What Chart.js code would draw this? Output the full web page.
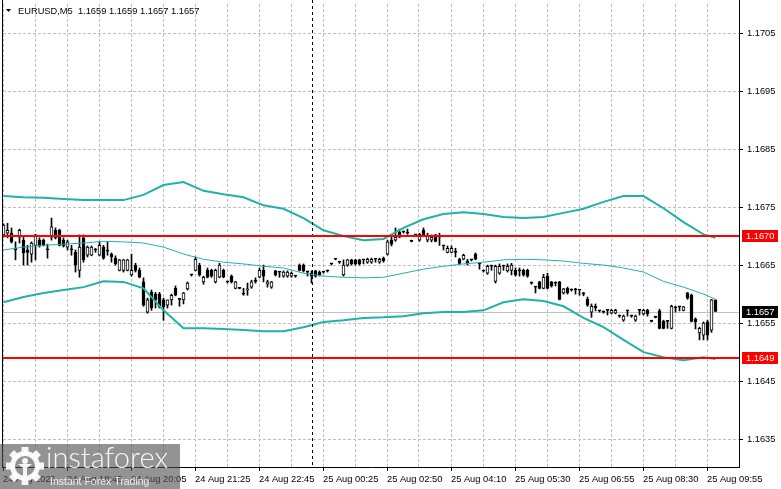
<!DOCTYPE html>
<html>
<head>
<meta charset="utf-8">
<title>EURUSD M5</title>
<script src="https://cdn.jsdelivr.net/npm/chart.js@4.4.1/dist/chart.umd.min.js"></script>
<style>
  html, body { margin: 0; padding: 0; background: #fff; }
  #wrap { width: 781px; height: 489px; position: relative; }
</style>
</head>
<body>
<div id="wrap"><canvas id="chart"></canvas></div>
<script>
// chart data
const symbol = "EURUSD,M5";

const opens = [
  1.16702, 1.16705, 1.16705, 1.16679, 1.16698, 1.16693, 1.16676, 1.16669, 1.16684, 1.16693,
  1.16693, 1.16678, 1.16698, 1.16710, 1.16710, 1.16693, 1.16681, 1.16678, 1.16672, 1.16641,
  1.16697, 1.16667, 1.16667, 1.16676, 1.16667, 1.16681, 1.16676, 1.16669, 1.16662, 1.16641,
  1.16641, 1.16641, 1.16633, 1.16650, 1.16641, 1.16621, 1.16569, 1.16603, 1.16600, 1.16600,
  1.16590, 1.16581, 1.16590, 1.16610, 1.16591, 1.16590, 1.16609, 1.16633, 1.16641, 1.16650,
  1.16621, 1.16641, 1.16641, 1.16621, 1.16629, 1.16641, 1.16621, 1.16631, 1.16610, 1.16610,
  1.16600, 1.16607, 1.16612, 1.16624, 1.16629, 1.16641, 1.16617, 1.16612, 1.16640, 1.16638,
  1.16631, 1.16631, 1.16631, 1.16631, 1.16650, 1.16650, 1.16638, 1.16636, 1.16640, 1.16638,
  1.16638, 1.16640, 1.16652, 1.16660, 1.16655, 1.16633, 1.16650, 1.16659, 1.16659, 1.16659,
  1.16659, 1.16655, 1.16655, 1.16660, 1.16655, 1.16662, 1.16669, 1.16693, 1.16693, 1.16707,
  1.16707, 1.16707, 1.16691, 1.16702, 1.16693, 1.16710, 1.16693, 1.16693, 1.16702, 1.16700,
  1.16684, 1.16672, 1.16672, 1.16672, 1.16660, 1.16660, 1.16657, 1.16659, 1.16669, 1.16652,
  1.16640, 1.16636, 1.16648, 1.16622, 1.16636, 1.16648, 1.16640, 1.16641, 1.16641, 1.16641,
  1.16641, 1.16641, 1.16619, 1.16612, 1.16621, 1.16610, 1.16631, 1.16621, 1.16619, 1.16621,
  1.16602, 1.16610, 1.16607, 1.16609, 1.16607, 1.16602, 1.16591, 1.16569, 1.16579, 1.16571,
  1.16569, 1.16572, 1.16567, 1.16567, 1.16562, 1.16555, 1.16571, 1.16562, 1.16555, 1.16572,
  1.16566, 1.16572, 1.16553, 1.16560, 1.16571, 1.16553, 1.16553, 1.16541, 1.16578, 1.16578,
  1.16572, 1.16602, 1.16598, 1.16557, 1.16533, 1.16529, 1.16552, 1.16538, 1.16590
];
const highs = [
  1.16721, 1.16722, 1.16714, 1.16690, 1.16712, 1.16698, 1.16684, 1.16690, 1.16703, 1.16697,
  1.16695, 1.16686, 1.16731, 1.16714, 1.16712, 1.16697, 1.16693, 1.16684, 1.16676, 1.16702,
  1.16702, 1.16683, 1.16683, 1.16679, 1.16691, 1.16684, 1.16690, 1.16671, 1.16666, 1.16660,
  1.16660, 1.16660, 1.16669, 1.16653, 1.16645, 1.16628, 1.16593, 1.16607, 1.16603, 1.16603,
  1.16593, 1.16590, 1.16600, 1.16614, 1.16591, 1.16603, 1.16621, 1.16633, 1.16664, 1.16653,
  1.16631, 1.16645, 1.16643, 1.16643, 1.16653, 1.16643, 1.16621, 1.16633, 1.16622, 1.16610,
  1.16610, 1.16619, 1.16624, 1.16628, 1.16645, 1.16650, 1.16624, 1.16622, 1.16641, 1.16638,
  1.16640, 1.16640, 1.16638, 1.16631, 1.16652, 1.16652, 1.16640, 1.16640, 1.16641, 1.16640,
  1.16638, 1.16640, 1.16652, 1.16660, 1.16655, 1.16659, 1.16660, 1.16660, 1.16660, 1.16660,
  1.16659, 1.16662, 1.16662, 1.16660, 1.16662, 1.16664, 1.16693, 1.16700, 1.16714, 1.16712,
  1.16709, 1.16712, 1.16693, 1.16703, 1.16705, 1.16714, 1.16705, 1.16702, 1.16703, 1.16705,
  1.16684, 1.16683, 1.16683, 1.16679, 1.16662, 1.16669, 1.16660, 1.16660, 1.16671, 1.16652,
  1.16641, 1.16650, 1.16650, 1.16650, 1.16652, 1.16650, 1.16652, 1.16653, 1.16645, 1.16645,
  1.16643, 1.16643, 1.16621, 1.16612, 1.16622, 1.16634, 1.16636, 1.16622, 1.16621, 1.16622,
  1.16610, 1.16612, 1.16609, 1.16610, 1.16607, 1.16603, 1.16595, 1.16583, 1.16583, 1.16572,
  1.16571, 1.16572, 1.16574, 1.16574, 1.16564, 1.16564, 1.16571, 1.16564, 1.16564, 1.16572,
  1.16574, 1.16574, 1.16555, 1.16562, 1.16574, 1.16555, 1.16553, 1.16581, 1.16579, 1.16578,
  1.16579, 1.16603, 1.16600, 1.16559, 1.16543, 1.16552, 1.16555, 1.16591, 1.16590
];
const lows = [
  1.16698, 1.16697, 1.16688, 1.16659, 1.16688, 1.16650, 1.16650, 1.16655, 1.16659, 1.16681,
  1.16683, 1.16662, 1.16693, 1.16695, 1.16683, 1.16681, 1.16676, 1.16667, 1.16638, 1.16629,
  1.16655, 1.16664, 1.16666, 1.16672, 1.16666, 1.16660, 1.16667, 1.16655, 1.16650, 1.16640,
  1.16638, 1.16640, 1.16631, 1.16638, 1.16628, 1.16579, 1.16567, 1.16572, 1.16576, 1.16576,
  1.16555, 1.16576, 1.16581, 1.16597, 1.16579, 1.16583, 1.16607, 1.16631, 1.16640, 1.16631,
  1.16617, 1.16628, 1.16629, 1.16619, 1.16628, 1.16628, 1.16619, 1.16619, 1.16609, 1.16609,
  1.16598, 1.16598, 1.16610, 1.16619, 1.16628, 1.16621, 1.16612, 1.16610, 1.16631, 1.16629,
  1.16629, 1.16629, 1.16629, 1.16629, 1.16640, 1.16638, 1.16631, 1.16619, 1.16629, 1.16631,
  1.16636, 1.16638, 1.16650, 1.16659, 1.16653, 1.16631, 1.16648, 1.16650, 1.16650, 1.16650,
  1.16652, 1.16653, 1.16653, 1.16655, 1.16653, 1.16655, 1.16667, 1.16683, 1.16691, 1.16697,
  1.16705, 1.16703, 1.16690, 1.16700, 1.16691, 1.16700, 1.16690, 1.16690, 1.16690, 1.16684,
  1.16676, 1.16671, 1.16671, 1.16664, 1.16652, 1.16659, 1.16650, 1.16657, 1.16659, 1.16643,
  1.16638, 1.16634, 1.16641, 1.16619, 1.16634, 1.16641, 1.16638, 1.16633, 1.16631, 1.16631,
  1.16631, 1.16629, 1.16617, 1.16602, 1.16609, 1.16609, 1.16609, 1.16612, 1.16614, 1.16590,
  1.16600, 1.16600, 1.16605, 1.16600, 1.16598, 1.16597, 1.16579, 1.16560, 1.16571, 1.16569,
  1.16567, 1.16564, 1.16566, 1.16566, 1.16560, 1.16553, 1.16562, 1.16560, 1.16553, 1.16564,
  1.16564, 1.16562, 1.16552, 1.16559, 1.16540, 1.16540, 1.16541, 1.16540, 1.16569, 1.16571,
  1.16571, 1.16591, 1.16552, 1.16540, 1.16521, 1.16521, 1.16521, 1.16534, 1.16570
];
const closes = [
  1.16719, 1.16710, 1.16690, 1.16676, 1.16710, 1.16671, 1.16672, 1.16688, 1.16702, 1.16683,
  1.16684, 1.16676, 1.16716, 1.16697, 1.16684, 1.16683, 1.16690, 1.16676, 1.16650, 1.16681,
  1.16659, 1.16681, 1.16681, 1.16676, 1.16684, 1.16662, 1.16674, 1.16664, 1.16652, 1.16659,
  1.16659, 1.16659, 1.16641, 1.16641, 1.16629, 1.16581, 1.16590, 1.16576, 1.16590, 1.16578,
  1.16578, 1.16590, 1.16598, 1.16598, 1.16591, 1.16602, 1.16619, 1.16633, 1.16660, 1.16633,
  1.16629, 1.16629, 1.16631, 1.16641, 1.16650, 1.16629, 1.16621, 1.16621, 1.16621, 1.16610,
  1.16600, 1.16609, 1.16621, 1.16622, 1.16641, 1.16631, 1.16621, 1.16621, 1.16633, 1.16638,
  1.16638, 1.16638, 1.16636, 1.16631, 1.16641, 1.16640, 1.16638, 1.16631, 1.16631, 1.16633,
  1.16638, 1.16640, 1.16652, 1.16660, 1.16655, 1.16650, 1.16659, 1.16652, 1.16652, 1.16652,
  1.16659, 1.16660, 1.16660, 1.16660, 1.16660, 1.16657, 1.16690, 1.16686, 1.16698, 1.16698,
  1.16707, 1.16705, 1.16691, 1.16702, 1.16703, 1.16702, 1.16700, 1.16698, 1.16691, 1.16698,
  1.16683, 1.16679, 1.16679, 1.16672, 1.16653, 1.16667, 1.16652, 1.16659, 1.16660, 1.16652,
  1.16640, 1.16648, 1.16648, 1.16648, 1.16648, 1.16648, 1.16648, 1.16650, 1.16633, 1.16640,
  1.16633, 1.16631, 1.16619, 1.16612, 1.16610, 1.16629, 1.16610, 1.16614, 1.16619, 1.16591,
  1.16609, 1.16602, 1.16607, 1.16607, 1.16607, 1.16600, 1.16581, 1.16579, 1.16576, 1.16571,
  1.16569, 1.16572, 1.16572, 1.16572, 1.16562, 1.16562, 1.16571, 1.16562, 1.16562, 1.16572,
  1.16572, 1.16566, 1.16553, 1.16560, 1.16541, 1.16541, 1.16553, 1.16579, 1.16576, 1.16578,
  1.16578, 1.16593, 1.16553, 1.16552, 1.16541, 1.16550, 1.16529, 1.16590, 1.16570
];

// Bollinger bands, sampled at these bar numbers
const bandIdx = [0, 5, 10, 15, 20, 25, 30, 35, 40, 45, 50, 55, 60, 65, 70, 75, 80, 85, 90,
  95, 100, 105, 110, 115, 120, 125, 130, 135, 140, 145, 150, 155, 160, 165, 170, 175, 178];
const bandUpper = [1.16769, 1.16767, 1.16766, 1.16764, 1.16762, 1.16762, 1.16762, 1.16771, 1.16788, 1.16793,
  1.16778, 1.16772, 1.16767, 1.16753, 1.16747, 1.16731, 1.16710, 1.16700, 1.16693, 1.16695,
  1.16714, 1.16729, 1.16738, 1.16741, 1.16738, 1.16733, 1.16731, 1.16733, 1.16740, 1.16747,
  1.16759, 1.16769, 1.16769, 1.16748, 1.16724, 1.16703, 1.16697];
const bandMiddle = [1.16676, 1.16681, 1.16684, 1.16686, 1.16688, 1.16691, 1.16690, 1.16688, 1.16681, 1.16669,
  1.16660, 1.16655, 1.16652, 1.16648, 1.16645, 1.16636, 1.16631, 1.16629, 1.16628, 1.16629,
  1.16636, 1.16643, 1.16648, 1.16652, 1.16655, 1.16659, 1.16660, 1.16659, 1.16657, 1.16653,
  1.16650, 1.16645, 1.16638, 1.16622, 1.16612, 1.16600, 1.16591];
const bandLower = [1.16586, 1.16595, 1.16602, 1.16607, 1.16612, 1.16622, 1.16621, 1.16610, 1.16572, 1.16541,
  1.16541, 1.16540, 1.16538, 1.16536, 1.16536, 1.16543, 1.16552, 1.16555, 1.16559, 1.16560,
  1.16562, 1.16567, 1.16569, 1.16569, 1.16572, 1.16586, 1.16591, 1.16588, 1.16579, 1.16559,
  1.16543, 1.16521, 1.16500, 1.16491, 1.16486, 1.16491, 1.16488];

const levels = [1.1670, 1.1649];     // red horizontal lines
const bidPrice = 1.1657;
const sessionBar = 77;               // dotted vertical separator
const priceTicks = [1.1635, 1.1645, 1.1655, 1.1665, 1.1675, 1.1685, 1.1695, 1.1705];
const timeLabels = ["24 Aug 2025", "24 Aug 18:45", "24 Aug 20:05", "24 Aug 21:25", "24 Aug 22:45",
  "25 Aug 00:25", "25 Aug 02:50", "25 Aug 04:10", "25 Aug 05:30", "25 Aug 06:55",
  "25 Aug 08:30", "25 Aug 09:55"];
const priceMin = 1.16302, priceMax = 1.17100;

const TEAL = "#20b2aa";
const FONT = '"Liberation Sans", Arial, sans-serif';
Chart.defaults.font.family = FONT;
Chart.defaults.color = "#000";

const bodies = opens.map((o, i) => ({ x: i, y: [o, closes[i]] }));
const wicks = opens.map((o, i) => ({ x: i, y: [lows[i], highs[i]] }));
const band = arr => bandIdx.map((b, k) => ({ x: b, y: arr[k] }));

// keep the plot area where the terminal has it (no label overhang padding)
const noPad = s => { s.paddingTop = 0; s.paddingBottom = 0; s.paddingLeft = 0; s.paddingRight = 0; };

const mtOverlay = {
  id: "mtOverlay",
  beforeDatasetsDraw(chart) {
    const { ctx, chartArea: a, scales: { y } } = chart;
    const yb = Math.round(y.getPixelForValue(bidPrice)) + 0.5;
    ctx.save();
    ctx.strokeStyle = "#c0c0c0";
    ctx.lineWidth = 1;
    ctx.beginPath(); ctx.moveTo(a.left, yb); ctx.lineTo(a.right, yb); ctx.stroke();
    ctx.restore();
  },
  afterDatasetsDraw(chart) {
    const { ctx, chartArea: a, scales: { x, y } } = chart;
    ctx.save();
    // session separator
    const xs = Math.round(x.getPixelForValue(sessionBar)) + 0.5;
    ctx.strokeStyle = "#000";
    ctx.lineWidth = 1;
    ctx.setLineDash([3, 3]);
    ctx.beginPath(); ctx.moveTo(xs, 0); ctx.lineTo(xs, a.bottom); ctx.stroke();
    ctx.setLineDash([]);
    // support / resistance
    ctx.strokeStyle = "#ff0000";
    ctx.lineWidth = 2;
    levels.forEach(l => {
      const yy = Math.round(y.getPixelForValue(l));
      ctx.beginPath(); ctx.moveTo(a.left, yy); ctx.lineTo(a.right, yy); ctx.stroke();
    });
    ctx.restore();
  },
  afterDraw(chart) {
    const { ctx, chartArea: a, scales: { y } } = chart;
    ctx.save();
    // frame
    ctx.fillStyle = "#000";
    ctx.fillRect(a.left - 1, 0, 1, a.bottom + 1);
    ctx.fillRect(a.right, 0, 1, a.bottom + 1);

    // price tags on the axis
    const tag = (price, bg) => {
      const yy = Math.round(y.getPixelForValue(price));
      ctx.fillStyle = bg;
      ctx.fillRect(a.right + 3, yy - 6, 36, 12);
      ctx.fillStyle = "#fff";
      ctx.font = "9.3px " + FONT;
      ctx.textAlign = "left";
      ctx.textBaseline = "middle";
      ctx.fillText(price.toFixed(4), a.right + 7, yy + 0.5);
    };
    tag(levels[0], "#ff0000");
    tag(bidPrice, "#000");
    tag(levels[1], "#ff0000");

    // header
    const n = opens.length - 1;
    ctx.fillStyle = "#000";
    ctx.beginPath(); ctx.moveTo(6, 9); ctx.lineTo(11, 9); ctx.lineTo(8.5, 12); ctx.closePath(); ctx.fill();
    ctx.font = "9.3px " + FONT;
    ctx.textBaseline = "middle";
    ctx.fillText(symbol + "  " + [opens[n], highs[n], lows[n], closes[n]].map(v => v.toFixed(4)).join(" "), 18, 11);

    // broker watermark
    ctx.fillStyle = "rgba(80,80,80,0.62)";
    ctx.fillRect(0, 444, 180, 45);
    const cx = 25, cy = 466;
    ctx.fillStyle = "rgba(255,255,255,0.92)";
    for (let k = 0; k < 8; k++) {
      ctx.save();
      ctx.translate(cx, cy);
      ctx.rotate(k * Math.PI / 4);
      ctx.fillRect(-3.5, -19, 7, 8);
      ctx.restore();
    }
    ctx.beginPath();
    ctx.arc(cx, cy, 15, 0, Math.PI * 2);
    ctx.arc(cx, cy, 10, 0, Math.PI * 2, true);
    ctx.fill();
    ctx.beginPath(); ctx.arc(cx, cy - 5, 3, 0, Math.PI * 2); ctx.fill();
    ctx.beginPath();
    ctx.moveTo(cx - 7, cy - 2); ctx.lineTo(cx + 7, cy - 2);
    ctx.lineTo(cx + 2, cy + 2); ctx.lineTo(cx + 2, cy + 11);
    ctx.lineTo(cx - 2, cy + 11); ctx.lineTo(cx - 2, cy + 2);
    ctx.closePath(); ctx.fill();
    ctx.textAlign = "left";
    ctx.textBaseline = "alphabetic";
    ctx.font = "300 29px Lato, " + FONT;
    ctx.fillText("instaforex", 46, 468);
    ctx.fillStyle = "rgba(255,255,255,0.85)";
    ctx.font = "10.5px " + FONT;
    ctx.fillText("Instant Forex Trading", 50, 485);
    ctx.restore();
  }
};

new Chart(document.getElementById("chart"), {
  type: "bar",
  data: {
    datasets: [
      { type: "line", label: "BB upper", data: band(bandUpper), borderColor: TEAL, borderWidth: 2, pointRadius: 0, tension: 0, order: 0 },
      { type: "line", label: "BB middle", data: band(bandMiddle), borderColor: TEAL, borderWidth: 1, pointRadius: 0, tension: 0, order: 0 },
      { type: "line", label: "BB lower", data: band(bandLower), borderColor: TEAL, borderWidth: 2, pointRadius: 0, tension: 0, order: 0 },
      {
        type: "bar", label: "body", data: bodies,
        backgroundColor: opens.map((o, i) => closes[i] > o ? "#fff" : "#000"),
        borderColor: "#000", borderWidth: 1, borderSkipped: false,
        barThickness: 3, minBarLength: 1, grouped: false, order: 1
      },
      {
        type: "bar", label: "wick", data: wicks,
        backgroundColor: "#000", borderWidth: 0,
        barThickness: 1, minBarLength: 1, grouped: false, order: 2
      }
    ]
  },
  options: {
    responsive: true,
    maintainAspectRatio: false,
    animation: false,
    layout: { padding: { left: 3, top: 4, right: 0, bottom: 0 } },
    plugins: { legend: { display: false }, tooltip: { enabled: false } },
    scales: {
      x: {
        type: "linear", min: -0.125, max: 183.875, offset: false,
        afterBuildTicks: s => {
          const t = [];
          for (let k = 0; k <= 23; k++) t.push({ value: k * 8 - 0.125 });
          s.ticks = t;
        },
        afterFit: s => { s.height = 22; noPad(s); },
        ticks: {
          callback: (v, i) => (i % 2 === 0 ? (timeLabels[i / 2] || "") : ""),
          align: "start", maxRotation: 0, autoSkip: false, padding: 3,
          color: "#000", font: { size: 9.3 }
        },
        grid: {
          offset: false, color: "#c0c0c0", lineWidth: 1, tickLength: 4,
          tickColor: c => (c.tick && c.tick.label ? "#000" : "rgba(0,0,0,0)")
        },
        border: { display: true, color: "#000", width: 1, dash: [3, 2] }
      },
      y: {
        type: "linear", position: "right", min: priceMin, max: priceMax,
        afterBuildTicks: s => { s.ticks = priceTicks.map(v => ({ value: v })); },
        afterFit: s => { s.width = 42; noPad(s); },
        ticks: { callback: v => v.toFixed(4), padding: 4, autoSkip: false, color: "#000", font: { size: 9.3 } },
        grid: { color: "#c0c0c0", lineWidth: 1, tickLength: 4, tickColor: "#000" },
        border: { display: true, color: "#000", width: 1, dash: [3, 2] }
      }
    }
  },
  plugins: [mtOverlay]
});
</script>
</body>
</html>
